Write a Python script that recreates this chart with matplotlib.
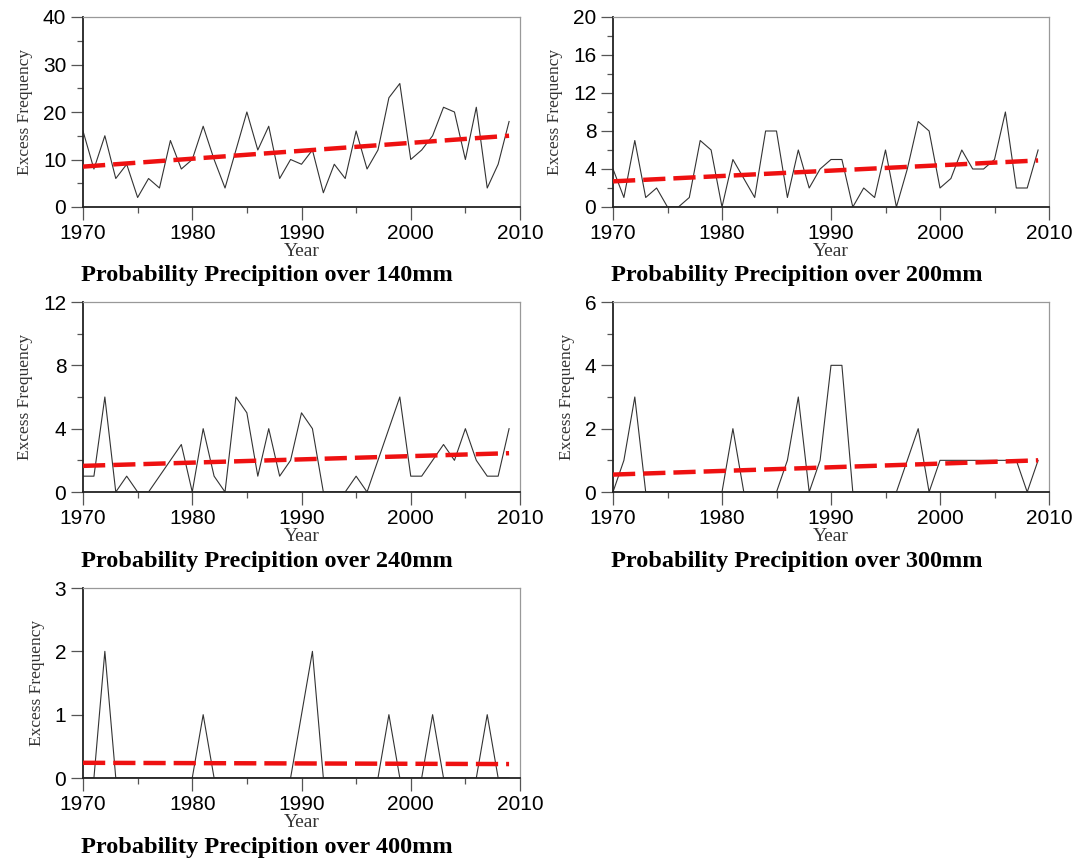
"""Excess frequency of heavy precipitation, 1970-2009, with linear trends."""

import matplotlib
matplotlib.use("Agg")
import matplotlib.pyplot as plt
from matplotlib.ticker import MultipleLocator

years = list(range(1970, 2010))

freq_140 = [16, 8, 15, 6, 9, 2, 6, 4, 14, 8,
            10, 17, 10, 4, 12, 20, 12, 17, 6, 10,
            9, 12, 3, 9, 6, 16, 8, 12, 23, 26,
            10, 12, 15, 21, 20, 10, 21, 4, 9, 18]
freq_200 = [4, 1, 7, 1, 2, 0, 0, 1, 7, 6,
            0, 5, 3, 1, 8, 8, 1, 6, 2, 4,
            5, 5, 0, 2, 1, 6, 0, 4, 9, 8,
            2, 3, 6, 4, 4, 5, 10, 2, 2, 6]
freq_240 = [1, 1, 6, 0, 1, 0, 0, 1, 2, 3,
            0, 4, 1, 0, 6, 5, 1, 4, 1, 2,
            5, 4, 0, 0, 0, 1, 0, 2, 4, 6,
            1, 1, 2, 3, 2, 4, 2, 1, 1, 4]
freq_300 = [0, 1, 3, 0, 0, 0, 0, 0, 0, 0,
            0, 2, 0, 0, 0, 0, 1, 3, 0, 1,
            4, 4, 0, 0, 0, 0, 0, 1, 2, 0,
            1, 1, 1, 1, 1, 1, 1, 1, 0, 1]
freq_400 = [0, 0, 2, 0, 0, 0, 0, 0, 0, 0,
            0, 1, 0, 0, 0, 0, 0, 0, 0, 0,
            1, 2, 0, 0, 0, 0, 0, 0, 1, 0,
            0, 0, 1, 0, 0, 0, 0, 1, 0, 0]

# trend line values at first and last year
trend_140 = [8.5, 15.0]
trend_200 = [2.7, 4.9]
trend_240 = [1.65, 2.45]
trend_300 = [0.55, 1.0]
trend_400 = [0.24, 0.22]

titles = ["Probability Precipition over 140mm",
          "Probability Precipition over 200mm",
          "Probability Precipition over 240mm",
          "Probability Precipition over 300mm",
          "Probability Precipition over 400mm"]
y_tops = [40, 20, 12, 6, 3]
y_majors = [10, 4, 4, 2, 1]
y_minors = [5, 2, 2, 1, None]

series = [freq_140, freq_200, freq_240, freq_300, freq_400]
trends = [trend_140, trend_200, trend_240, trend_300, trend_400]

W, H = 1078, 859
# axes boxes in pixels: left, top, right, bottom
boxes = [(83, 17, 520, 207),
         (613, 17, 1049, 207),
         (83, 302, 520, 492),
         (613, 302, 1049, 492),
         (83, 588, 520, 778)]

SANS = "Liberation Sans"
SERIF = "Liberation Serif"

fig = plt.figure(figsize=(W / 100, H / 100), dpi=100)

for i in range(5):
    left, top, right, bottom = boxes[i]
    ax = fig.add_axes([left / W, 1 - bottom / H, (right - left) / W, (bottom - top) / H])

    ax.plot(years, series[i], color="#333333", linewidth=0.8, zorder=2)
    ax.plot([years[0], years[-1]], trends[i], color="#ee1111", linewidth=3.2,
            dashes=(5.0, 1.8), zorder=3)

    ax.set_xlim(1970, 2010)
    ax.set_ylim(0, y_tops[i])
    ax.xaxis.set_major_locator(MultipleLocator(10))
    ax.xaxis.set_minor_locator(MultipleLocator(5))
    ax.yaxis.set_major_locator(MultipleLocator(y_majors[i]))
    if y_minors[i]:
        ax.yaxis.set_minor_locator(MultipleLocator(y_minors[i]))

    ax.tick_params(which="major", length=9, width=0.9, color="#555555", direction="out",
                   labelsize=15, pad=3)
    ax.tick_params(which="minor", length=4.5, width=0.9, color="#555555", direction="out")
    for lab in ax.get_xticklabels() + ax.get_yticklabels():
        lab.set_fontfamily(SANS)

    for side in ("top", "right"):
        ax.spines[side].set_color("#999999")
        ax.spines[side].set_linewidth(0.9)
    for side in ("left", "bottom"):
        ax.spines[side].set_color("#222222")
        ax.spines[side].set_linewidth(1.3)

    ax.set_ylabel("Excess Frequency", fontfamily=SERIF, fontsize=12.5, color="#333333",
                  labelpad=7)
    ax.set_xlabel("Year", fontfamily=SERIF, fontsize=14, color="#333333", labelpad=0)

    fig.text((left - 2) / W, 1 - (bottom + 69) / H, titles[i], fontfamily=SERIF,
             fontsize=17.5, fontweight="bold", ha="left", va="center")

fig.savefig("out.png", dpi=100)
